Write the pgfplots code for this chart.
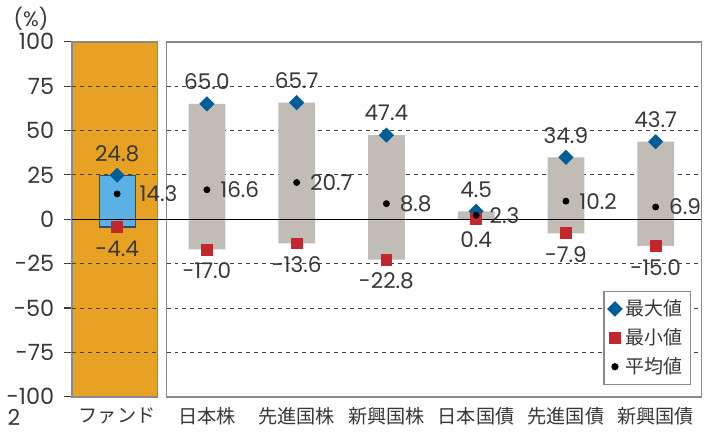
\documentclass[border=0pt]{standalone}
\usepackage{fontspec}
\setmainfont{Noto Sans CJK JP}
\newfontfamily\numfont{Poppins}
\usepackage{pgfplots}
\pgfplotsset{compat=1.18}
\usepackage{pgfplotstable}

\definecolor{fundorange}{HTML}{E8A223}
\definecolor{fundblue}{HTML}{5BB1E3}
\definecolor{fundborder}{HTML}{2F4E6B}
\definecolor{bargray}{HTML}{C1BCB6}
\definecolor{panelgray}{HTML}{8A8A8A}
\definecolor{maxblue}{HTML}{005E96}
\definecolor{minred}{HTML}{C1272D}
\definecolor{txt}{HTML}{383838}
\definecolor{gridc}{HTML}{404040}

% fund
\pgfplotstableread{
x max min avg
0 24.8 -4.4 14.3
}\fund

% asset classes
\pgfplotstableread{
x max min avg
1 65.0 -17.0 16.6
2 65.7 -13.6 20.7
3 47.4 -22.8 8.8
4 4.5 0.4 2.3
5 34.9 -7.9 10.2
6 43.7 -15.0 6.9
}\assets

\begin{document}
\begin{tikzpicture}
\path (-35.7pt,-16.5pt) rectangle (318.3pt,197.5pt);
\begin{axis}[
  name=ax, at={(0,0)}, anchor=south west,
  scale only axis, width=315pt, height=177.75pt,
  xmin=-0.5, xmax=6.51, ymin=-100, ymax=100,
  clip=false,
  axis line style={draw=none},
  xtick={0,...,6},
  xticklabels={ファンド,日本株,先進国株,新興国株,日本国債,先進国債,新興国債},
  xtick style={draw=none},
  ytick={-100,-75,...,100},
  yticklabels={-100,-75,-50,-25,0,25,50,75,100},
  ytick pos=left, tick align=outside, major tick length=4pt,
  ytick style={draw=gridc, line width=0.6pt},
  yticklabel style={font=\numfont\fontsize{11.2}{12}\selectfont, text=txt, xshift=-1.5pt},
  xticklabel style={font=\fontsize{9.6}{11}\selectfont, text=txt, yshift=2pt},
  legend style={at={(1,0)}, anchor=south east, xshift=-5pt, yshift=6pt,
    draw=panelgray, line width=0.6pt, font=\fontsize{9.5}{11}\selectfont,
    text=txt, inner sep=2pt, row sep=1pt},
  legend cell align=left,
]
% panels
\draw[fill=fundorange, draw=panelgray, line width=0.8pt] (axis cs:-0.5,-100) rectangle (axis cs:0.45,100);
\draw[fill=white, draw=panelgray, line width=0.8pt] (axis cs:0.55,-100) rectangle (axis cs:6.51,100);
% grid
\pgfplotsinvokeforeach{-75,-50,-25,25,50,75}{
  \draw[gridc, line width=0.5pt, dash pattern=on 2pt off 2pt] (axis cs:-0.5,#1) -- (axis cs:0.45,#1);
  \draw[gridc, line width=0.5pt, dash pattern=on 2pt off 2pt] (axis cs:0.55,#1) -- (axis cs:6.51,#1);
}
% range bars
\addplot[ybar, bar width=0.41, bar shift=0pt, fill=bargray, draw=none, forget plot] table[x=x, y=max] {\assets};
\addplot[ybar, bar width=0.41, bar shift=0pt, fill=bargray, draw=none, forget plot] table[x=x, y=min] {\assets};
\addplot[ybar, bar width=0.4, bar shift=0pt, fill=fundblue, draw=fundborder, line width=0.6pt, forget plot] table[x=x, y=max] {\fund};
\addplot[ybar, bar width=0.4, bar shift=0pt, fill=fundblue, draw=fundborder, line width=0.6pt, forget plot] table[x=x, y=min] {\fund};
% zero line
\draw[black, line width=0.6pt] (axis cs:-0.5,0) -- (axis cs:6.51,0);

% markers + labels
\addplot[only marks, mark=square*, mark size=2.47pt, mark options={rotate=45}, color=maxblue,
  nodes near coords, point meta=explicit symbolic,
  every node near coord/.append style={anchor=center, yshift=11pt, text=txt, font=\numfont\fontsize{10.8}{13}\selectfont}]
  table[x=x, y=max, meta=max] {\assets};
\addlegendentry{最大値}
\addplot[only marks, mark=square*, mark size=2.75pt, color=minred,
  nodes near coords, point meta=explicit symbolic,
  every node near coord/.append style={anchor=center, yshift=-10.7pt, text=txt, font=\numfont\fontsize{10.8}{13}\selectfont}]
  table[x=x, y=min, meta=min] {\assets};
\addlegendentry{最小値}
\addplot[only marks, mark=*, mark size=1.5pt, color=black,
  nodes near coords, point meta=explicit symbolic,
  every node near coord/.append style={anchor=west, yshift=0pt, xshift=3.2pt, text=txt, font=\numfont\fontsize{10.8}{13}\selectfont}]
  table[x=x, y=avg, meta=avg] {\assets};
\addlegendentry{平均値}

\addplot[only marks, mark=square*, mark size=2.47pt, mark options={rotate=45}, color=maxblue, forget plot,
  nodes near coords, point meta=explicit symbolic,
  every node near coord/.append style={anchor=center, yshift=10.8pt, text=txt, font=\numfont\fontsize{10.8}{13}\selectfont}]
  table[x=x, y=max, meta=max] {\fund};
\addplot[only marks, mark=square*, mark size=2.75pt, color=minred, forget plot,
  nodes near coords, point meta=explicit symbolic,
  every node near coord/.append style={anchor=center, yshift=-10.8pt, text=txt, font=\numfont\fontsize{10.8}{13}\selectfont}]
  table[x=x, y=min, meta=min] {\fund};
\addplot[only marks, mark=*, mark size=1.5pt, color=black, forget plot,
  nodes near coords, point meta=explicit symbolic,
  every node near coord/.append style={anchor=west, xshift=7.7pt, text=txt, font=\numfont\fontsize{10.8}{13}\selectfont}]
  table[x=x, y=avg, meta=avg] {\fund};
\end{axis}
\node[text=txt, font=\numfont\fontsize{10.4}{12}\selectfont] at ([shift={(-20.7pt,11.75pt)}]ax.north west) {(\%)};
\node[text=txt, font=\numfont\fontsize{11}{12}\selectfont] at ([shift={(-29.2pt,-10.5pt)}]ax.south west) {2};
\end{tikzpicture}
\end{document}
